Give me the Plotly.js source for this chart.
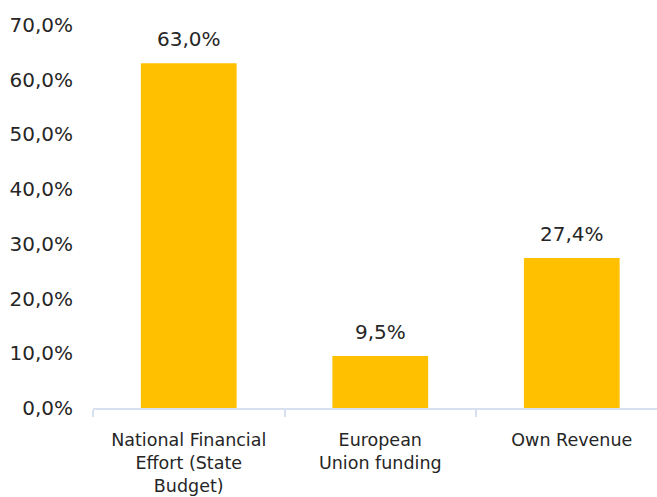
<!DOCTYPE html>
<html><head><meta charset="utf-8">
<script src="https://cdn.plot.ly/plotly-3.0.1.min.js"></script>
<style>html,body{margin:0;padding:0;overflow:hidden;background:#fff}</style>
</head><body>
<div id="chart" style="width:657px;height:497px"></div>
<script>
const categories = ["National Financial<br>Effort (State<br>Budget)", "European<br>Union funding", "Own Revenue"];
const shares = [63.0, 9.5, 27.4];
const yTicks = [0, 10, 20, 30, 40, 50, 60, 70];

const fmt = v => v.toFixed(1).replace('.', ',') + '%';
const FONT = 'DejaVu Sans, sans-serif';

Plotly.newPlot('chart', [{
  type: 'bar',
  x: categories,
  y: shares,
  width: 0.5,
  marker: {color: '#FFC000'},
  hoverinfo: 'skip'
}], {
  width: 657, height: 497,
  margin: {l: 93, r: 0, t: 25, b: 88.5},
  paper_bgcolor: '#fff', plot_bgcolor: '#fff',
  showlegend: false,
  xaxis: {
    range: [-0.5, 2.445],
    showline: true, linecolor: '#d6e0ee', linewidth: 2,
    ticks: 'outside', tickson: 'boundaries', ticklen: 7, tickcolor: '#d6e0ee', tickwidth: 2,
    ticklabelstandoff: 15,
    tickfont: {family: FONT, size: 17.5, color: '#262626'},
    showgrid: false, zeroline: false, fixedrange: true
  },
  yaxis: {
    range: [0, 70],
    tickvals: yTicks,
    ticktext: yTicks.map(fmt),
    showgrid: false, zeroline: false, showline: false,
    ticks: '', ticklabelstandoff: 19,
    tickfont: {family: FONT, size: 20, color: '#262626'},
    fixedrange: true
  },
  annotations: categories.map((c, i) => ({
    x: c, y: shares[i], xref: 'x', yref: 'y',
    text: fmt(shares[i]), showarrow: false,
    yanchor: 'bottom', yshift: 10,
    font: {family: FONT, size: 20, color: '#262626'}
  }))
}, {displayModeBar: false, staticPlot: true});
</script>
</body></html>
